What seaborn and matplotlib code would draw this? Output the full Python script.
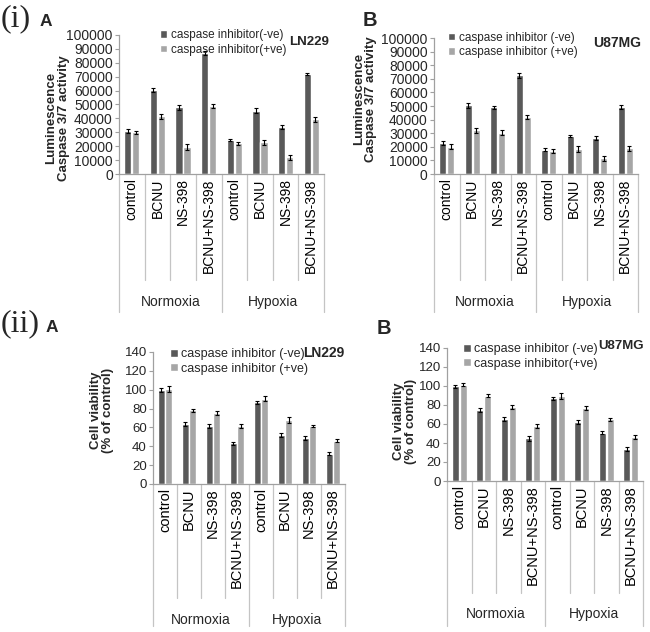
import numpy as np
import pandas as pd
import matplotlib
matplotlib.use("Agg")
import matplotlib.pyplot as plt
import seaborn as sns
from matplotlib.transforms import blended_transform_factory

# ---------------- data ----------------
treatments = ["control", "BCNU", "NS-398", "BCNU+NS-398",
              "control", "BCNU", "NS-398", "BCNU+NS-398"]
conditions = ["Normoxia", "Hypoxia"]

# (i) A  LN229 caspase 3/7 activity
iA_neg = [31000, 60500, 48000, 87000, 24500, 45500, 34000, 72000]
iA_neg_err = [1200, 1500, 1800, 1500, 1000, 1800, 1300, 1000]
iA_pos = [30000, 41500, 19500, 49000, 22000, 23000, 12000, 39500]
iA_pos_err = [1200, 1800, 2000, 1500, 1200, 1800, 1800, 1800]

# (i) B  U87MG caspase 3/7 activity
iB_neg = [22500, 50500, 49000, 72500, 18000, 28000, 26500, 49500]
iB_neg_err = [1500, 2000, 1200, 2000, 1200, 1000, 1500, 1500]
iB_pos = [20000, 32000, 30500, 42000, 17000, 18500, 11500, 19000]
iB_pos_err = [1800, 1500, 1800, 1200, 1500, 2000, 2000, 1800]

# (ii) A  LN229 cell viability
iiA_neg = [100, 63.5, 61.5, 43, 86.5, 52, 49, 32]
iiA_neg_err = [2, 2.5, 2, 2, 2, 2.5, 2, 1.5]
iiA_pos = [101, 78, 75, 61.5, 90.5, 68, 61.5, 46]
iiA_pos_err = [3, 2, 2, 2.5, 2.5, 3, 1.5, 1.5]

# (ii) B  U87MG cell viability
iiB_neg = [99.5, 75, 65, 45, 87, 62, 51, 34]
iiB_neg_err = [2, 2, 2, 2.5, 1.5, 2, 2, 2]
iiB_pos = [101.5, 90, 77.5, 58, 89.5, 77, 65, 46]
iiB_pos_err = [1.5, 2, 2, 2, 3, 2, 1.5, 2]

# ---------------- style ----------------
sns.set_theme(style="white")
plt.rcParams['font.family'] = ['Liberation Sans', 'DejaVu Sans']

W, H = 650, 632
fig = plt.figure(figsize=(6.5, 6.32), dpi=100)


def fx(x):
    return x / W


def fy(y):
    return 1 - y / H


DARK = "#595959"
LIGHT = "#a6a6a6"
AXC = "#a0a0a0"
SEP = "#c4c4c4"


def panel(box, neg, neg_err, pos, pos_err, leg_labels, ymax, ystep,
          tick_fs, cat_fs, leg_fs, leg_xy, ylabel, ylabel_fs, ylab_x,
          ylab_yfrac, ylab_ls, short_end, long_end, group_y, cell, cell_xy,
          cell_fs):
    x0, x1, ytop, ybot = box
    ax = fig.add_axes([fx(x0), fy(ybot), fx(x1 - x0), (ybot - ytop) / H])
    keys = [f"{i}" for i in range(len(treatments))]
    df = pd.DataFrame({
        "key": keys * 2,
        "value": list(neg) + list(pos),
        "series": [leg_labels[0]] * len(keys) + [leg_labels[1]] * len(keys),
    })
    sns.barplot(data=df, x="key", y="value", hue="series", order=keys,
                hue_order=leg_labels, palette=[DARK, LIGHT], width=0.62,
                gap=0.08, errorbar=None, saturation=1, ax=ax, legend=True)
    for cont, err in zip(ax.containers[:2], [neg_err, pos_err]):
        xs = [b.get_x() + b.get_width() / 2 for b in cont]
        hs = [b.get_height() for b in cont]
        ax.errorbar(xs, hs, yerr=err, fmt='none', ecolor='black',
                    elinewidth=0.8, capsize=1.6, capthick=0.8, zorder=5)
    handles, labels = ax.get_legend_handles_labels()
    ax.legend(handles, labels, loc='center left',
              bbox_to_anchor=(fx(leg_xy[0]), fy(leg_xy[1])),
              bbox_transform=fig.transFigure, frameon=False, fontsize=leg_fs,
              handlelength=0.6, handleheight=0.6, handletextpad=0.3,
              labelspacing=0.2, borderpad=0, borderaxespad=0)
    ax.set_xlim(-0.5, len(keys) - 0.5)
    ax.set_ylim(0, ymax)
    ax.set_yticks(np.arange(0, ymax + ystep / 2, ystep))
    ax.set_xticks(range(len(keys)))
    ax.set_xticklabels(treatments, rotation=90, fontsize=cat_fs)
    ax.tick_params(axis='x', length=0, pad=3, colors='black')
    ax.tick_params(axis='y', length=3, width=0.8, color=AXC, direction='out',
                   labelsize=tick_fs, pad=1.5, left=True)
    ax.set_xlabel("")
    for s in ['top', 'right']:
        ax.spines[s].set_visible(False)
    for s in ['left', 'bottom']:
        ax.spines[s].set_color(AXC)
        ax.spines[s].set_linewidth(0.9)
    ax.set_ylabel(ylabel, fontsize=ylabel_fs, fontweight='bold',
                  linespacing=ylab_ls)
    ax.yaxis.label.set_va('center')
    ax.yaxis.set_label_coords((ylab_x - x0) / (x1 - x0), ylab_yfrac)
    trans = blended_transform_factory(ax.transData, fig.transFigure)
    n = len(keys)
    for i in range(n + 1):
        xb = i - 0.5
        end = long_end if i in (0, n // 2, n) else short_end
        ax.plot([xb, xb], [fy(ybot), fy(end)], transform=trans, color=SEP,
                lw=0.9, clip_on=False, zorder=0)
    for j, cond in enumerate(conditions):
        ax.text(1.5 + 4 * j, fy(group_y), cond, transform=trans,
                ha='center', va='center', fontsize=10)
    fig.text(fx(cell_xy[0]), fy(cell_xy[1]), cell, fontsize=cell_fs,
             fontweight='bold', ha='left', va='center')
    return ax


panel((119, 324, 35, 174), iA_neg, iA_neg_err, iA_pos, iA_pos_err,
      ["caspase inhibitor(-ve)", "caspase inhibitor(+ve)"], 100000, 10000,
      10, 10, 8.5, (160, 42.5),
      "Luminescence\nCaspase 3/7 activity", 9.5, 57.5, 0.40, 1.0,
      280, 312, 302, "LN229", (289, 42), 9.5)

panel((434, 638, 38, 174), iB_neg, iB_neg_err, iB_pos, iB_pos_err,
      ["caspase inhibitor (-ve)", "caspase inhibitor (+ve)"], 100000, 10000,
      10, 10, 8.5, (448, 45),
      "Luminescence\nCaspase 3/7 activity", 9.5, 365, 0.55, 1.0,
      280, 312, 302, "U87MG", (593, 43), 10)

panel((153, 345, 352, 484), iiA_neg, iiA_neg_err, iiA_pos, iiA_pos_err,
      ["caspase inhibitor (-ve)", "caspase inhibitor (+ve)"], 140, 20,
      9.5, 10.5, 9, (170, 361.5),
      "Cell viability\n(% of control)", 9.5, 102, 0.56, 1.05,
      598, 626, 620, "LN229", (303, 353), 10)

panel((447, 643, 348, 481), iiB_neg, iiB_neg_err, iiB_pos, iiB_pos_err,
      ["caspase inhibitor (-ve)", "caspase inhibitor(+ve)"], 140, 20,
      9.5, 10.5, 9, (463, 356.5),
      "Cell viability\n(% of control)", 9.5, 405, 0.45, 1.05,
      593, 626, 614, "U87MG", (598, 346), 9.5)

# panel letters
serif = ['Liberation Serif', 'DejaVu Serif']
fig.text(fx(1), fy(19), "(i)", family=serif, fontsize=23, ha='left', va='center')
fig.text(fx(40), fy(21), "A", fontsize=12.5, fontweight='bold', ha='left', va='center')
fig.text(fx(363), fy(20), "B", fontsize=14.5, fontweight='bold', ha='left', va='center')
fig.text(fx(1), fy(324), "(ii)", family=serif, fontsize=23, ha='left', va='center')
fig.text(fx(46), fy(328), "A", fontsize=12.5, fontweight='bold', ha='left', va='center')
fig.text(fx(377), fy(328), "B", fontsize=14.5, fontweight='bold', ha='left', va='center')

fig.savefig("out.png", dpi=100)
